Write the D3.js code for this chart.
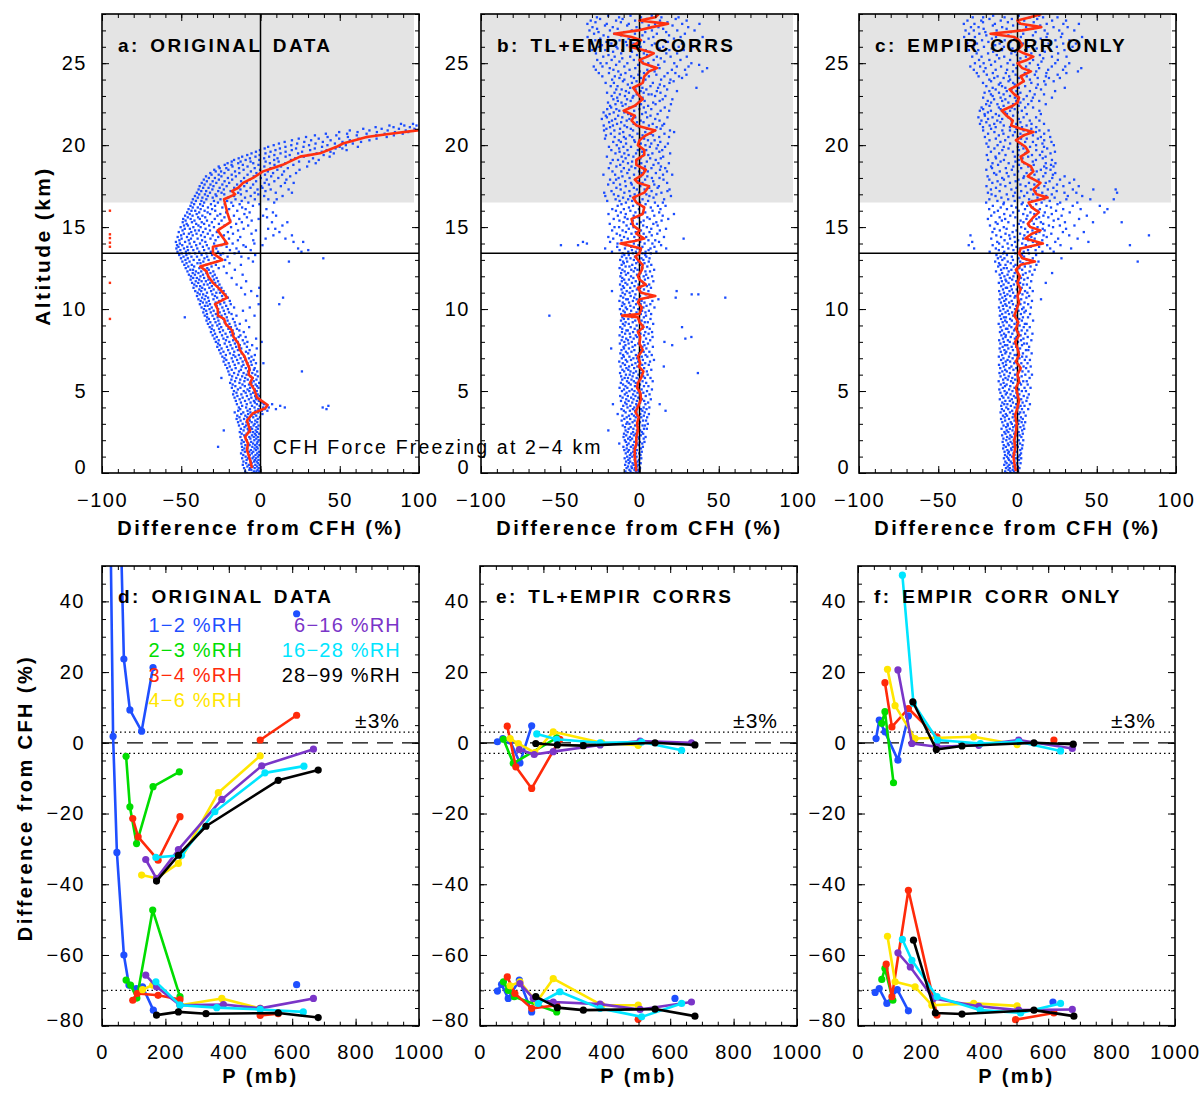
<!DOCTYPE html>
<html>
<head>
<meta charset="utf-8">
<script src="https://cdn.jsdelivr.net/npm/d3@7"></script>
<style>
body{margin:0;background:#fff;}
svg text{font-family:"Liberation Sans",Arial,sans-serif;fill:#000;}
</style>
</head>
<body>
<svg id="fig" width="1201" height="1093"></svg>
<script>
// ---------- data : top row (altitude km, difference %) ----------
// scatter rows : [altitude, diff, diff, ...]
var scatterA = [
[0.0,-8.6,-5.3,-3.1,-1.4],[0.1,-9.7,-4.2,-2.6,-0.8],[0.2,-7.1,-5.8,-1.9],[0.3,-10.4,-6.6,-3.7,-1.2],[0.4,-8.3,-4.9,-2.2],
[0.5,-11.2,-7.4,-3.3,-0.6],[0.6,-9.1,-5.6,-1.7],[0.7,-10.8,-6.2,-4.1,-2.4],[0.8,-8.8,-3.6,-1.3],[0.9,-11.6,-7.9,-5.1,-2.8],
[1.0,-9.4,-4.4,-1.6],[1.1,-10.9,-6.8,-3.2,-0.9],[1.2,-12.3,-5.5,-2.1],[1.3,-9.9,-7.2,-4.6,-1.1],[1.4,-11.4,-6.1,-2.9],
[1.5,-10.2,-8.3,-3.8,-1.8],[1.6,-26.8,-11.7,-5.2,-2.4],[1.7,-9.6,-6.9,-3.4,-0.7],[1.8,-12.1,-7.7,-4.7,-2.3],[1.9,-10.6,-5.9,-1.9],
[2.0,-11.8,-8.6,-3.9,-1.2],[2.1,-9.3,-6.4,-2.7],[2.2,-12.7,-7.1,-4.3,-1.6],[2.3,-10.3,-5.4,-2.9],[2.4,-11.9,-8.8,-3.6,-0.9],
[2.5,-13.1,-6.6,-4.8,-2.2],[2.6,-23.2,-10.7,-7.6,-3.1],[2.7,-12.4,-8.1,-5.3,-1.7],[2.8,-10.1,-6.3,-2.6],[2.9,-13.6,-9.2,-4.4,-1.3],
[3.0,-11.3,-7.5,-3.7],[3.1,-14.2,-8.9,-5.6,-2.1],[3.2,-12.6,-6.8,-3.3],[3.3,-15.1,-10.4,-7.2,-1.8],[3.4,-13.3,-8.4,-4.6,-0.4],
[3.5,-14.7,-9.6,-5.9,-2.7],[3.6,-12.2,-7.8,-3.9,1.2],[3.7,-16.3,-10.9,-6.4,-1.6],[3.8,-14.1,-8.2,-3.2,0.8,4.3],
[3.9,-12.8,-6.7,-1.4,2.6,9.7,41.6],[4.0,-13.7,-9.1,-3.8,1.7,5.2,15.3,39.2],[4.1,-11.6,-5.4,-0.6,3.9,12.4,42.8],
[4.2,-14.9,-8.7,-2.3,2.1,7.3],[4.3,-12.4,-6.3,-3.6,0.9],[4.4,-15.6,-9.8,-4.2,-1.1],[4.5,-13.2,-7.4,-2.7],
[4.6,-16.4,-11.3,-5.8,-2.9],[4.7,-14.6,-8.6,-3.4,-0.7],[4.8,-17.3,-12.1,-6.2,-1.8],[4.9,-15.2,-9.4,-4.7],
[5.0,-16.8,-10.6,-7.1,-2.4],[5.1,-14.3,-8.2,-3.6],[5.2,-18.1,-12.7,-6.6,-1.3],[5.3,-15.9,-9.9,-4.8,-2.2],
[5.4,-17.6,-11.4,-7.3,-3.1],[5.5,-19.2,-13.3,-5.7,-0.9],[5.6,-16.1,-10.2,-4.3],[5.7,-18.4,-12.8,-8.1,-2.6],
[5.8,-24.7,-15.3,-9.7,-4.9],[5.9,-17.9,-11.6,-6.4,-1.7],[6.0,-19.6,-14.2,-8.8,-3.3],[6.1,-16.7,-10.7,-5.2],
[6.2,-20.3,-13.6,-7.9,-2.1,26.1],[6.3,-18.2,-12.4,-6.8,-4.2],[6.4,-21.1,-15.7,-9.3,-3.7],[6.5,-19.4,-11.9,-7.4],
[6.6,-22.2,-16.3,-10.8,-5.6],[6.7,-20.1,-13.9,-8.2,-2.9,1.8],[6.8,-23.3,-17.4,-11.3,-6.1],[6.9,-21.6,-14.8,-9.6,-4.4],
[7.0,-22.8,-18.2,-12.6,-7.3],[7.1,-24.1,-15.9,-10.4,-5.7],[7.2,-21.9,-17.1,-13.7,-3.6],[7.3,-25.2,-19.3,-11.9,-7.8],
[7.4,-23.4,-16.6,-9.2],[7.5,-26.1,-20.4,-14.3,-6.9],[7.6,-24.6,-17.8,-12.2,-2.4],[7.7,-27.3,-21.2,-15.4,-8.6],
[7.8,-25.7,-18.9,-13.1,-5.3],[7.9,-26.8,-22.6,-16.2,-10.1],[8.0,-28.2,-19.7,-14.4,-8.3,0.7],[8.1,-26.4,-21.8,-17.3,-11.2],
[8.2,-29.1,-23.4,-15.6,-2.8],[8.3,-27.6,-20.9,-13.8,-9.4],[8.4,-30.2,-24.3,-18.4,-12.7],[8.5,-28.7,-22.1,-16.9],
[8.6,-31.3,-25.6,-19.2,-10.6],[8.7,-29.4,-23.7,-17.6,-13.4],[8.8,-30.8,-26.2,-20.3,-14.9],[8.9,-32.1,-24.8,-18.7,-7.2],
[9.0,-30.4,-27.3,-21.4,-15.8],[9.1,-33.2,-25.9,-19.6,-13.1],[9.2,-31.7,-28.4,-22.7,-16.3],[9.3,-34.1,-26.6,-20.8,-9.2],
[9.4,-32.6,-29.2,-23.5,-17.4],[9.5,-47.8,-33.7,-27.1,-21.3],[9.6,-35.2,-30.3,-24.6,-15.2,-3.8],[9.7,-33.8,-28.2,-22.4,-18.3],
[9.8,-36.1,-31.4,-25.8,-19.9],[9.9,-34.3,-29.6,-23.2,-11.1],[10.0,-35.7,-32.2,-26.7,-20.6],[10.1,-37.2,-30.8,-24.1,-16.7,-6.8],
[10.2,-35.1,-33.4,-27.6,-21.7],[10.3,-38.3,-31.9,-25.4,-18.8,-1.2,11.8],[10.4,-36.4,-34.1,-28.3,-22.9],[10.5,-37.8,-32.6,-26.2,-19.4],
[10.6,-39.2,-35.3,-29.7,-23.8],[10.7,-36.9,-33.1,-27.4,-20.6,14.2],[10.8,-40.1,-34.6,-28.8,-24.3,-2.1],[10.9,-38.4,-36.2,-30.4,-22.1,-9.8],
[11.0,-39.7,-33.8,-27.9,-25.6],[11.1,-41.2,-37.4,-31.2,-23.3,-5.9],[11.2,-38.6,-35.1,-29.6,-26.4],[11.3,-42.3,-36.8,-32.3,-24.7,-12.2,-0.8],
[11.4,-40.4,-38.1,-30.7,-27.2],[11.5,-41.8,-35.7,-33.4,-25.9,-15.1],[11.6,-43.2,-39.3,-31.8,-28.6],[11.7,-40.9,-37.2,-34.5,-26.8,-9.1],
[11.8,-44.1,-38.7,-32.9,-29.4],[11.9,-42.5,-40.2,-35.6,-27.7,-18.2],[12.0,-43.9,-37.9,-33.1,-30.2],[12.1,-45.2,-41.4,-36.3,-28.9,-11.3],
[12.2,-42.8,-39.2,-34.2,-31.6,-21.4],[12.3,-46.1,-40.8,-37.4,-29.8],[12.4,-44.3,-42.6,-35.1,-32.7,-16.2],[12.5,-47.2,-38.6,-33.6,-26.4],
[12.6,-45.6,-41.9,-36.8,-30.9,-23.2],[12.7,-48.1,-43.4,-34.3,-28.2,-12.4],[12.8,-46.7,-39.8,-37.9,-31.3,-19.6],
[12.9,-49.3,-44.8,-36.1,-27.4,-4.8,17.9],[13.0,-47.4,-42.2,-38.6,-32.8,-22.3],[13.1,-50.2,-45.9,-35.4,-29.1,-7.6,39.6],
[13.2,-48.6,-43.6,-40.1,-33.7,-20.8,-12.1],[13.3,-51.3,-46.8,-37.2,-30.6,-25.2,-3.4],[13.4,-49.7,-44.9,-41.3,-34.2,-23.6,-16.4],
[13.5,-52.4,-47.1,-38.7,-31.4,-26.8,-13.7,25.8],[13.6,-50.6,-45.8,-42.4,-35.6,-19.3,-6.2,30.1],[13.7,-53.1,-48.3,-39.9,-32.7,-27.9,-15.2,23.7],
[13.8,-51.8,-46.2,-43.6,-36.4,-21.4,-9.3],[13.9,-52.7,-49.4,-40.6,-33.9,-24.7,-10.8,1.2],[14.0,-50.9,-44.7,-38.2,-29.3,-17.6,-3.9],
[14.1,-53.4,-47.6,-41.8,-34.8,-22.4,20.8,26.9],[14.2,-51.2,-45.3,-36.9,-28.4,-14.3,-4.6],[14.3,-49.8,-43.9,-39.7,-31.6,-19.9,3.2,15.7],
[14.4,-52.3,-46.4,-35.2,-26.7,-12.8],[14.5,-50.1,-42.8,-37.6,-30.2,-23.1,8.1,19.8],[14.6,-48.4,-45.2,-40.4,-33.3,-17.4,-5.7],
[14.7,-51.6,-43.7,-36.3,-27.6,-20.6,11.9],[14.8,-49.2,-41.3,-38.9,-31.9,-14.2,-2.9],[14.9,-47.8,-44.6,-34.7,-25.8,-10.7,4.8,9.3],
[15.0,-50.4,-42.4,-37.8,-29.4,-18.6],[15.1,-48.3,-45.8,-39.2,-32.4,-22.7,-7.8,13.8],[15.2,-46.6,-40.6,-35.6,-26.3,-15.4],
[15.3,-49.1,-43.3,-37.1,-30.7,-11.8,7.2,16.9],[15.4,-47.3,-41.7,-33.8,-24.6,-19.1,-5.6],[15.5,-48.8,-44.1,-38.3,-28.9,-13.4,-1.2],
[15.6,-45.9,-39.4,-34.9,-22.8,-8.6,4.1],[15.7,-47.6,-42.9,-36.7,-27.2,-16.8,1.6,9.8],[15.8,-44.7,-40.3,-31.8,-25.4,-10.2],
[15.9,-46.3,-38.7,-33.4,-21.7,-6.9,7.8],[16.0,-43.6,-41.2,-35.3,-28.6,-14.7],[16.1,-45.4,-37.8,-30.6,-19.8,-9.4,3.7],
[16.2,-42.8,-39.6,-33.2,-24.1,-11.6],[16.3,-44.2,-36.4,-28.7,-17.3,-4.8],[16.4,-41.9,-38.1,-31.3,-22.6,-13.2,-0.7],
[16.5,-43.5,-35.6,-26.9,-18.4,-7.7,8.6],[16.6,-40.8,-37.3,-29.4,-21.1,-11.9],[16.7,-42.7,-34.2,-25.3,-15.8,-3.6,4.9,10.2],
[16.8,-39.6,-36.7,-30.2,-20.4,-9.8],[16.9,-41.4,-33.3,-27.8,-16.7,-6.2,2.3,13.9],[17.0,-38.7,-35.1,-28.4,-22.9,-12.4,-1.4],
[17.1,-40.2,-31.9,-24.6,-14.1,-3.7,9.6,19.8],[17.2,-37.4,-34.3,-26.7,-18.9,-8.8,3.1],[17.3,-39.1,-30.4,-23.2,-12.7,-1.9,6.4,17.7],
[17.4,-36.2,-32.8,-25.8,-16.6,-6.3,1.2],[17.5,-38.4,-29.7,-21.4,-10.3,0.4,12.8],[17.6,-35.3,-31.6,-24.1,-14.8,-4.7,5.3],
[17.7,-37.1,-27.9,-19.8,-8.7,2.6,15.4,20.9],[17.8,-33.9,-30.2,-22.7,-12.3,-2.8,8.7],[17.9,-35.8,-26.3,-17.9,-6.8,3.9,16.3],
[18.0,-32.6,-28.8,-20.6,-10.4,0.2,11.2],[18.1,-34.4,-24.7,-15.6,-4.3,6.7,18.7],[18.2,-30.9,-26.4,-18.2,-8.2,2.8,13.6],
[18.3,-31.7,-22.8,-13.4,-2.6,7.9,22.4],[18.4,-28.3,-24.9,-16.1,-6.1,4.6,14.8],[18.5,-29.2,-20.3,-10.7,-0.3,10.6,24.6],
[18.6,-25.8,-21.6,-13.6,-3.7,6.3,17.2],[18.7,-26.4,-17.7,-8.2,2.4,12.9,29.4],[18.8,-22.6,-18.3,-11.2,-1.3,8.8,20.7],
[18.9,-20.8,-14.1,-4.6,5.9,15.6,34.8],[19.0,-18.2,-12.6,-6.3,3.2,11.4,24.3,30.6],[19.1,-16.7,-9.4,-0.8,8.6,19.2,36.7],
[19.2,-13.8,-6.7,2.3,10.7,21.8,33.1],[19.3,-11.6,-3.2,5.4,15.8,27.3,43.6],[19.4,-8.4,-0.6,8.7,18.4,30.2,39.8],
[19.5,-5.7,3.1,12.6,23.7,35.4,46.2],[19.6,-2.9,6.3,15.8,26.2,38.6,44.1],[19.7,-0.4,9.4,19.7,31.3,41.7,54.3],
[19.8,2.6,12.2,22.4,34.2,47.3,51.6],[19.9,4.8,15.7,27.1,38.8,49.9,61.4],[20.0,8.3,19.4,30.6,42.2,53.8],
[20.1,11.6,23.1,34.7,46.9,58.2],[20.2,15.2,27.6,39.3,51.7,63.4],[20.3,19.8,31.9,44.2,56.3,68.7],[20.4,24.1,36.7,49.6,61.8,73.2],
[20.5,28.7,42.3,55.1,67.4,79.6],[20.6,34.3,47.8,60.7,72.9,84.1],[20.7,41.2,54.6,66.9,78.3,89.7],[20.8,49.6,61.2,73.4,84.8,93.2],
[20.9,56.3,68.7,80.2,91.6],[21.0,64.8,76.4,87.3,97.1],[21.1,72.6,83.9,94.2],[21.2,81.3,90.7,98.4],[21.3,88.6,96.2]
];
var scatterB = [
[0.0,-7.6,-4.3,-1.8],[0.1,-8.9,-5.7,-2.4,-0.6],[0.2,-6.4,-3.2,-1.1],[0.3,-8.2,-4.8,-2.9,0.3],[0.4,-7.3,-5.1,-1.5],
[0.5,-9.1,-3.7,-0.8],[0.6,-6.8,-4.4,-2.2,0.7],[0.7,-8.5,-5.9,-1.3],[0.8,-7.1,-3.1,-0.4],[0.9,-9.4,-6.2,-2.7,1.1],
[1.0,-7.8,-4.6,-1.9],[1.1,-6.1,-3.4,0.6],[1.2,-8.7,-5.3,-2.3,-0.2],[1.3,-7.4,-4.1,1.4],[1.4,-9.6,-6.6,-1.6],
[1.5,-8.1,-3.8,0.9],[1.6,-10.2,-5.5,-2.6,2.1],[1.7,-7.9,-4.2,-0.7],[1.8,-12.8,-6.9,-1.4,1.7],[1.9,-8.6,-3.3,0.2,3.1],
[2.0,-9.3,-5.8,-2.1],[2.1,-7.2,-4.7,-0.3,2.6],[2.2,-10.1,-6.1,-1.2,3.8],[2.3,-8.4,-3.6,0.8],[2.4,-9.8,-5.2,-2.5,2.3],
[2.5,-7.5,-4.1,1.5],[2.6,-19.7,-8.8,-1.7,0.4],[2.7,-6.9,-3.9,2.8,4.6],[2.8,-9.2,-5.6,-0.9],[2.9,-10.6,-2.8,1.9,3.4],
[3.0,-8.3,-6.4,-1.3,5.2],[3.1,-7.7,-4.4,0.3],[3.2,-11.3,-3.1,2.2,4.1],[3.3,-9.6,-5.9,-0.6],[3.4,-8.1,-2.4,1.1,4.8],
[3.5,-10.8,-6.7,-3.5,2.7],[3.6,-13.8,-4.9,0.5,5.9],[3.7,-8.8,-1.9,3.3],[3.8,-9.9,-6.1,-2.8,1.8,16.4],[3.9,-11.4,-4.2,0.9,4.4],
[4.0,-7.6,-3.3,2.6,6.2],[4.1,-10.3,-5.8,-1.4],[4.2,-16.8,-8.2,-2.1,3.7,12.7],[4.3,-9.1,-4.6,0.4,5.4],[4.4,-11.7,-6.9,-1.7,2.9],
[4.5,-8.4,-3.8,1.6,7.1],[4.6,-10.7,-5.3,-0.8],[4.7,-12.2,-7.4,-2.6,3.9],[4.8,-9.3,-4.1,0.7,6.3],[4.9,-8.2,-1.3,2.4],
[5.0,-11.1,-6.4,-3.2,4.7],[5.1,-9.8,-4.8,1.3,7.8],[5.2,-12.6,-7.7,-1.1],[5.3,-8.9,-2.9,2.8,5.6],[5.4,-10.4,-5.6,0.3],
[5.5,-11.8,-6.8,-2.4,4.2],[5.6,-7.9,-3.6,1.9,8.3],[5.7,-10.9,-5.1,-0.4],[5.8,-9.4,-7.3,-1.8,3.4,6.9],[5.9,-11.6,-4.4,2.3],
[6.0,-8.6,-6.2,-0.7,5.1],[6.1,-12.3,-3.8,1.2,36.8],[6.2,-9.7,-5.7,-2.2,4.6],[6.3,-10.8,-7.1,0.6,7.4],[6.4,-8.3,-3.4,2.9],
[6.5,-11.9,-6.6,-1.4,15.3],[6.6,-9.2,-4.7,1.7,5.8],[6.7,-10.6,-2.6,3.6],[6.8,-12.8,-7.8,-0.9,6.6],[6.9,-8.7,-5.4,2.1,9.1],
[7.0,-11.2,-3.9,-1.6],[7.1,-9.9,-6.4,1.4,4.9],[7.2,-10.4,-2.3,3.8,7.7],[7.3,-12.1,-7.6,-0.4],[7.4,-8.6,-5.1,2.6,6.2],
[7.5,-11.4,-3.3,0.9],[7.6,-17.9,-9.8,-6.7,4.3],[7.7,-10.1,-4.4,1.8,8.4],[7.8,-8.9,-2.8,3.1,20.6],[7.9,-12.4,-6.9,-0.8,5.3],
[8.0,-9.6,-4.9,2.4,15.7],[8.1,-11.3,-7.3,0.2,6.7],[8.2,-8.4,-3.7,4.1,28.9],[8.3,-10.7,-5.8,-1.6,8.2,32.7],[8.4,-12.6,-2.4,2.8],
[8.5,-9.1,-6.2,0.6,5.7],[8.6,-11.1,-4.1,3.6,7.9],[8.7,-8.3,-7.4,-1.2],[8.8,-10.9,-3.1,1.9,6.4],[8.9,-12.2,-5.6,4.7,26.8],
[9.0,-9.4,-1.8,2.2],[9.1,-10.5,-6.8,0.4,8.6],[9.2,-8.8,-4.3,3.3,5.2],[9.3,-11.7,-2.7,1.3],[9.4,-9.9,-7.1,-0.6,6.9],
[9.5,-10.8,-4.6,2.7],[9.6,-56.9,-8.6,-3.4,4.1],[9.7,-11.6,-6.1,0.8,7.3],[9.8,-9.3,-1.9,3.7],[9.9,-10.2,-5.3,1.6,5.9],
[10.0,-12.4,-7.9,-0.9],[10.1,-8.7,-3.6,2.4,9.4],[10.2,-11.1,-5.8,4.4],[10.3,-9.6,-2.2,0.7,6.8],[10.4,-10.6,-6.6,3.1],
[10.5,-12.7,-4.2,1.3,8.1],[10.6,-8.4,-7.4,-1.8,11.9],[10.7,-10.3,-3.4,5.2,22.8,54.1],[10.8,-11.9,-5.6,0.3,7.6],[10.9,-9.2,-2.6,3.9,37.1,32.9],
[11.0,-10.7,-6.3,1.6],[11.1,-17.4,-8.1,-4.4,5.6,23.4],[11.2,-11.4,-1.7,2.8],[11.3,-9.8,-5.9,0.4,7.2],[11.4,-10.5,-3.2,4.6],
[11.5,-12.3,-7.7,-0.6,6.1],[11.6,-8.9,-4.8,2.3],[11.7,-11.2,-2.4,1.1,8.7],[11.8,-9.7,-6.7,3.4],[11.9,-10.9,-3.9,-0.2,5.4],
[12.0,-12.1,-5.4,2.6,7.9],[12.1,-8.6,-1.6,4.2],[12.2,-11.6,-7.2,0.6],[12.3,-9.4,-3.7,3.7,6.6],[12.4,-10.8,-5.2,-1.3,9.2],
[12.5,-12.6,-2.8,1.8],[12.6,-8.8,-6.4,4.9],[12.7,-11.3,-4.6,0.2,7.4],[12.8,-9.9,-2.1,3.1],[12.9,-10.4,-7.8,-0.8,5.8],
[13.0,-12.2,-3.6,2.4],[13.1,-8.3,-5.7,1.2,6.3],[13.2,-11.1,-2.9,4.3],[13.3,-9.6,-6.8,-0.4,3.6],[13.4,-10.7,-4.2,1.9,7.1],
[13.5,-17.4,-7.1,-2.3,3.8,10.6],[13.6,-12.6,-4.8,0.6,5.7],[13.7,-21.7,-9.2,-1.4,6.9,16.8],[13.8,-14.1,-5.3,1.8,9.4],
[13.9,-49.6,-38.8,-8.7,-0.7,13.6],[14.0,-33.2,-13.9,-3.6,3.2,8.1],[14.1,-35.7,-18.6,-6.2,0.4,12.3],[14.2,-11.4,-2.1,5.6,9.9],
[14.3,-16.6,-7.4,1.3,27.8],[14.4,-19.7,-9.8,-3.3,4.2,15.4],[14.5,-12.3,-0.6,7.7],[14.6,-14.4,-5.1,2.6,11.2],
[14.7,-8.6,-2.4,6.3],[14.8,-17.3,-10.7,0.9,12.8],[14.9,-6.8,-1.3,7.4,16.7],[15.0,-15.8,-12.9,-3.8,4.6],
[15.1,-8.2,2.3,11.4],[15.2,-18.8,-5.4,-1.6,8.7],[15.3,-10.1,0.7,10.6],[15.4,-12.7,-4.2,2.6,13.9],
[15.5,-16.3,-7.6,6.4,18.1],[15.6,-9.3,-0.8,4.9],[15.7,-13.7,-3.7,9.3,14.6],[15.8,-19.6,-8.7,1.2,21.7],
[15.9,-11.8,-2.6,3.6,12.4],[16.0,-14.9,-5.8,8.2],[16.1,-17.2,-9.9,-0.4,13.2],[16.2,-6.7,2.7,7.1],
[16.3,-13.8,-4.1,11.6,16.4],[16.4,-11.4,-1.2,3.8],[16.5,-8.6,0.3,9.7,14.7],[16.6,-20.4,-12.6,-4.7,5.4],
[16.7,-15.1,-7.2,1.9,15.5],[16.8,-10.4,-2.8,8.8],[16.9,-21.6,-13.4,-5.9,6.2,19.8],[17.0,-16.2,-3.1,4.3,10.6],
[17.1,-22.3,-9.6,-0.2,13.8],[17.2,-17.7,-6.4,7.6,17.6],[17.3,-11.9,-1.7,3.2,18.9],[17.4,-14.6,-3.6,6.1,11.4],
[17.5,-8.7,0.5,12.2],[17.6,-19.8,-12.3,-4.9,9.3],[17.7,-16.4,-5.4,1.8,17.4],[17.8,-9.1,-1.2,8.6],
[17.9,-18.6,-14.8,-2.6,3.5,15.1],[18.0,-13.2,-6.3,7.8,12.6],[18.1,-10.8,0.9,4.9],[18.2,-22.8,-15.4,-3.5,14.8,20.6],
[18.3,-7.7,1.4,10.3],[18.4,-17.1,-11.5,-0.3,5.2,17.3],[18.5,-6.6,2.9,12.9],[18.6,-19.4,-9.9,-2.7,7.5,16.2],
[18.7,-14.6,-5.1,3.4,13.5],[18.8,-12.2,-0.8,8.8],[18.9,-18.3,-7.3,1.1,11.9,18.5],[19.0,-10.4,-4.7,4.6],
[19.1,-16.9,-13.6,-1.5,10.2],[19.2,-8.8,0.6,6.7,13.4],[19.3,-20.6,-11.3,-3.9,14.9],[19.4,-6.9,2.4,5.5],
[19.5,-15.2,-9.6,-2.2,8.1,19.3],[19.6,-12.6,1.7,12.5],[19.7,-17.8,-7.6,-1.1,4.2,14.3],[19.8,-12.9,0.4,10.7],
[19.9,-19.3,-10.2,-5.4,6.5,16.1],[20.0,-14.4,-0.9,3.7,11.6],[20.1,-8.5,0.8,7.4,17.9],[20.2,-16.6,-11.8,-2.9,13.1],
[20.3,-13.1,-3.4,5.3,9.5],[20.4,-21.8,-8.7,0.2,2.9],[20.5,-15.7,-9.9,-4.6,12.4,18.6],[20.6,-21.2,-6.2,1.9,8.5],
[20.7,-18.1,-12.6,-1.3,7.1,15.7],[20.8,-10.3,3.6,21.8],[20.9,-22.4,-15.9,-4.1,9.7,19.2],[21.0,-20.9,-12.3,-5.5,4.6,13.3],
[21.1,-18.6,-7.9,-0.4,10.8],[21.2,-22.6,-16.8,-9.5,5.9,14.4],[21.3,-14.2,-3.7,8.3,15.5],[21.4,-19.2,-11.6,-1.6,2.5],
[21.5,-17.4,-8.1,0.7,12.6],[21.6,-23.8,-15.3,-6.4,9.9],[21.7,-20.6,-10.9,-2.7,4.8,17.6],[21.8,-21.3,-13.5,-5.3,6.9],
[21.9,-18.9,-7.2,1.6,11.4],[22.0,-22.7,-16.3,-9.6,3.9],[22.1,-12.8,-3.4,13.3,18.7],[22.2,-20.4,-14.6,-0.1,7.4],
[22.3,-17.9,-6.5,2.7,15.9],[22.4,-18.6,-10.7,-2.6,5.4],[22.5,-15.2,-8.8,0.9,10.1,19.8],[22.6,-19.9,-11.4,-0.6,8.6],
[22.7,-13.7,-5.6,3.2,12.7],[22.8,-16.5,-7.9,0.3,14.6,20.7],[22.9,-14.1,-4.4,1.9],[23.0,-17.6,-9.2,-3.9,9.8,16.3],
[23.1,-12.4,-1.8,5.7,7.6],[23.2,-20.5,-15.8,-6.7,2.6,13.2],[23.3,-8.6,0.7,10.9,23.6],[23.4,-14.7,-11.3,-2.5,4.3,17.4],
[23.5,-5.9,1.8,11.7,35.9],[23.6,-18.2,-13.9,-0.7,6.9,15.6],[23.7,-7.4,0.5,12.8],[23.8,-21.4,-16.2,-4.8,8.4,18.9],
[23.9,-10.5,-1.9,2.3,21.5],[24.0,-17.3,-9.6,3.7,13.6,19.5],[24.1,-12.7,-3.5,0.9,26.8],[24.2,-23.5,-15.6,-5.3,5.9,15.7,24.9],
[24.3,-11.8,-0.8,10.6,29.6],[24.4,-25.7,-19.3,-8.9,2.8,17.7,22.6],[24.5,-13.4,0.1,9.5,39.7],[24.6,-27.6,-16.5,-6.3,4.9,20.4,28.7],
[24.7,-18.8,-2.7,12.6,42.6],[24.8,-28.9,-23.4,-9.6,7.6,23.5,30.9],[24.9,-14.8,-0.9,11.8,37.6],[25.0,-24.6,-20.8,-7.7,5.5,21.9,32.7],
[25.1,-12.7,1.9,15.7],[25.2,-26.7,-17.6,-3.6,8.9,25.8],[25.3,-10.9,0.4,13.4],[25.4,-22.9,-15.7,-5.9,10.9,19.6,29.8],
[25.5,-19.6,-1.6,4.7],[25.6,-27.5,-11.6,2.7,16.9,23.7],[25.7,-16.7,-4.8,6.6],[25.8,-29.8,-21.6,-10.8,3.9,18.8,27.9],
[25.9,-13.9,-0.6,12.7],[26.0,-25.6,-14.6,0.7,14.9,24.7,33.8],[26.1,-23.7,-7.9,7.8],[26.2,-30.7,-17.8,-3.8,9.6,26.8,36.9],
[26.3,-20.9,-8.6,2.9,17.9],[26.4,-27.9,-12.6,0.2,15.8,32.6],[26.5,-24.8,-6.9,5.7,21.7],[26.6,-32.8,-19.8,-5.9,8.7,25.9,39.8],
[26.7,-22.7,-11.7,1.8,18.6],[26.8,-28.7,-15.9,-2.9,10.9,28.6],[26.9,-25.9,-9.7,3.6,16.8],[27.0,-31.6,-18.7,-4.9,7.8,23.8,34.7],
[27.1,-26.8,-13.8,0.3,14.9],[27.2,-29.7,-16.9,-1.9,11.9,30.7],[27.3,-21.8,-7.8,5.8,20.8],[27.4,-32.9,-20.7,-6.8,9.8,26.9,37.8],
[27.5,-27.8,-11.8,1.7,17.6],[27.6,-30.8,-14.8,-2.8,12.9,29.7],[27.7,-24.9,-10.7,4.7,22.8],[27.8,-26.9,-12.9,0.9,13.8,24.6],
[27.9,-19.8,-5.7,7.7]
];
var scatterC = [
[0.0,-6.6,-3.9,-1.2],[0.1,-7.8,-4.6,-2.3,0.4],[0.2,-5.7,-3.1,-0.6],[0.3,-7.3,-4.9,-1.8,1.2],[0.4,-6.2,-2.7,0.3],
[0.5,-8.4,-5.2,-1.4],[0.6,-6.9,-3.6,-0.2,1.9],[0.7,-7.7,-4.3,-2.1],[0.8,-5.4,-2.2,0.9],[0.9,-8.6,-5.9,-1.1,2.3],
[1.0,-6.7,-3.4,0.6],[1.1,-7.9,-4.7,-1.9,1.4],[1.2,-5.9,-2.6,2.2],[1.3,-8.2,-5.5,-0.7],[1.4,-6.4,-3.8,1.7],
[1.5,-9.1,-4.1,-1.6,2.8],[1.6,-7.4,-2.9,0.2],[1.7,-8.7,-5.6,-0.9,3.1],[1.8,-6.1,-3.3,1.6],[1.9,-9.4,-4.4,-1.3],
[2.0,-7.1,-2.4,0.8,3.6],[2.1,-8.9,-5.1,-1.7],[2.2,-6.6,-3.7,2.4],[2.3,-9.7,-4.6,-0.4,1.3],[2.4,-7.6,-2.1,3.3],
[2.5,-8.3,-5.8,-1.2,0.7],[2.6,-6.8,-3.2,2.9],[2.7,-10.1,-4.9,-0.6,4.2],[2.8,-7.2,-2.7,1.8],[2.9,-8.8,-6.1,-1.5,3.7],
[3.0,-6.3,-3.6,0.5],[3.1,-9.6,-4.3,2.6,4.8],[3.2,-7.8,-1.9,1.1],[3.3,-10.4,-5.4,-0.8,3.3],[3.4,-8.1,-3.1,2.1],
[3.5,-9.2,-6.6,-1.6,5.1],[3.6,-7.4,-2.6,0.9],[3.7,-10.7,-4.8,1.7,3.9],[3.8,-8.6,-3.4,-0.3],[3.9,-9.9,-5.9,2.8,6.7],
[4.0,-7.1,-1.8,0.6],[4.1,-10.3,-4.2,1.9,4.4],[4.2,-8.4,-6.4,-0.9,7.8],[4.3,-9.6,-2.9,3.2],[4.4,-7.7,-4.9,0.4,5.6],
[4.5,-11.2,-3.6,2.3],[4.6,-8.9,-5.8,-1.2,6.2],[4.7,-9.8,-2.3,3.9],[4.8,-7.4,-4.4,1.1,7.1],[4.9,-10.8,-6.7,-0.7],
[5.0,-8.2,-3.2,2.7,5.3],[5.1,-11.5,-5.3,0.8],[5.2,-9.3,-1.9,4.4,8.2],[5.3,-7.9,-4.6,-0.4],[5.4,-10.6,-6.9,2.2,6.4],
[5.5,-8.8,-2.8,1.4],[5.6,-11.9,-4.1,3.6,5.8],[5.7,-9.1,-6.2,-1.5],[5.8,-7.6,-3.3,0.9,7.6],[5.9,-10.7,-5.6,2.6],
[6.0,-8.4,-1.6,4.9,9.1],[6.1,-11.4,-4.8,0.2],[6.2,-9.6,-6.8,3.1,6.9],[6.3,-7.8,-2.6,1.7],[6.4,-10.9,-5.1,-0.8,5.4],
[6.5,-8.6,-3.9,3.8,8.3],[6.6,-11.7,-7.2,0.6],[6.7,-9.3,-2.1,2.4,6.3],[6.8,-7.5,-4.7,-1.3],[6.9,-10.4,-6.3,4.6,7.8],
[7.0,-8.9,-3.1,1.2],[7.1,-11.8,-5.4,2.9,5.6],[7.2,-9.7,-1.8,-0.6],[7.3,-7.7,-4.6,3.4,8.9],[7.4,-10.6,-7.1,0.7],
[7.5,-8.3,-2.9,5.3,6.8],[7.6,-11.3,-5.8,1.6],[7.7,-9.4,-3.7,-0.9,7.3],[7.8,-7.9,-6.5,2.8],[7.9,-10.8,-2.4,4.1,5.9],
[8.0,-8.7,-4.9,0.3],[8.1,-11.6,-6.1,2.2,8.7],[8.2,-9.2,-1.7,3.7],[8.3,-7.6,-4.3,-0.7,6.4],[8.4,-10.2,-7.4,1.9],
[8.5,-8.5,-3.3,4.8,9.4],[8.6,-11.1,-5.6,0.5],[8.7,-9.8,-2.2,2.6,6.1],[8.8,-7.3,-6.4,-1.6],[8.9,-10.7,-3.9,3.9,7.7],
[9.0,-8.8,-5.2,1.3],[9.1,-11.9,-1.9,4.6,5.7],[9.2,-9.4,-6.8,-0.4],[9.3,-7.8,-3.6,2.7,9.8],[9.4,-10.4,-4.7,1.1],
[9.5,-8.6,-7.3,3.4,6.6],[9.6,-11.2,-2.7,-1.2],[9.7,-9.7,-5.4,2.1,7.9],[9.8,-7.6,-3.4,4.3],[9.9,-10.9,-6.2,0.6,5.2],
[10.0,-8.9,-1.6,2.9],[10.1,-11.7,-4.8,3.8,8.4],[10.2,-9.3,-6.9,-0.8],[10.3,-7.7,-2.9,1.8,6.7],[10.4,-10.5,-5.3,4.4],
[10.5,-8.4,-3.7,0.9,9.1],[10.6,-11.4,-7.2,2.3,14.8],[10.7,-9.6,-1.9,5.6],[10.8,-7.9,-4.6,-1.4,7.3],[10.9,-10.8,-6.4,3.1],
[11.0,-8.6,-2.8,1.4,6.2],[11.1,-11.6,-5.1,4.7,9.6],[11.2,-9.2,-3.6,-0.5],[11.3,-7.4,-6.6,2.6,7.8],[11.4,-10.3,-4.2,0.7],
[11.5,-8.8,-2.3,3.6,5.9],[11.6,-11.8,-5.7,1.6,17.8],[11.7,-9.9,-7.1,-0.9,8.6],[11.8,-7.6,-3.4,4.2],[11.9,-10.6,-4.9,2.2,6.4],
[12.0,-8.3,-2.6,0.4],[12.1,-11.3,-6.3,3.4,9.3],[12.2,-9.7,-1.8,5.1,21.8],[12.3,-13.6,-5.6,-0.6,7.6],[12.4,-10.4,-3.9,2.9,10.8],
[12.5,-8.7,-6.8,1.2],[12.6,-12.2,-2.4,4.6,8.2],[12.7,-10.9,-7.6,-1.3,11.9],[12.8,-11.7,-4.3,3.3,7.1],[12.9,-14.1,-6.2,1.7,13.2,75.8],
[13.0,-9.6,-2.9,5.8],[13.1,-12.4,-8.3,0.6,9.6,27.7],[13.2,-10.7,-3.6,4.1],[13.3,-13.3,-6.7,2.8,11.7],[13.4,-9.1,-1.4,7.2],
[13.5,-17.6,-8.4,3.9,15.7,22.8],[13.6,-11.8,-2.6,6.6,11.4],[13.7,-27.4,-13.7,-5.8,1.4,20.6,33.8],[13.8,-9.4,-0.7,8.3,13.6],
[13.9,-30.8,-15.7,-3.6,5.2,18.7,27.1,70.9],[14.0,-11.6,-6.3,2.9,12.4],[14.1,-28.6,-12.8,-1.6,9.7,23.8,44.7],[14.2,-8.2,0.4,6.8,15.6],
[14.3,-16.6,-4.7,3.6,10.8,25.6,37.9],[14.4,-10.4,-1.9,8.7,18.4],[14.5,-29.7,-13.4,-5.2,4.3,16.4,32.6,82.9],[14.6,-7.6,1.6,11.7,21.3],
[14.7,-15.8,-3.1,6.4,13.8,28.6,41.8],[14.8,-11.2,-0.6,9.4,17.1],[14.9,-14.6,-6.9,4.8,15.9,30.6],[15.0,-8.7,2.3,12.6,22.4],
[15.1,-17.4,-2.4,7.1,19.8,26.7,35.9],[15.2,-12.6,0.8,10.3,16.2],[15.3,-13.8,-5.8,3.7,14.7,29.9,47.6,65.7],[15.4,-9.9,1.9,8.9,22.8],
[15.5,-18.7,-7.8,5.6,11.9,25.7,38.8],[15.6,-11.3,-1.4,13.6,19.4],[15.7,-16.6,-4.6,6.2,16.3,27.8,43.7],[15.8,-8.4,3.6,10.6,21.6],
[15.9,-14.7,-2.8,8.1,17.2,32.9,54.8],[16.0,-12.4,0.7,12.9,24.3],[16.1,-17.9,-6.7,4.7,14.1,28.8,39.8,56.7],[16.2,-10.6,-0.9,9.6,21.1],
[16.3,-15.6,-3.8,6.1,18.3,34.8,51.9],[16.4,-8.9,2.6,11.8,25.2],[16.5,-19.8,-8.6,3.3,15.2,26.9,37.7],[16.6,-12.7,-1.8,9.2,20.3],
[16.7,-17.8,-5.9,7.3,16.8,30.8,45.9,60.7],[16.8,-10.2,1.2,12.6,23.4],[16.9,-13.9,-2.7,4.2,18.1,31.7,40.8],[17.0,-16.4,-6.8,9.9,21.6],
[17.1,-18.7,-1.6,6.1,15.6,29.6,37.1,62.8],[17.2,-11.3,2.3,11.4,24.7],[17.3,-16.8,-3.9,8.4,19.1,34.9,47.8,61.9],[17.4,-13.6,-0.7,13.2,22.6],
[17.5,-19.6,-7.7,5.1,16.9,28.9,38.6],[17.6,-10.8,1.8,10.6,24.9],[17.7,-15.9,-4.8,7.2,17.8,32.8],[17.8,-12.6,-1.2,12.4,20.2],
[17.9,-17.8,-8.6,0.6,13.3,26.8,35.7],[18.0,-9.7,3.7,8.8,21.9],[18.1,-18.9,-5.7,4.1,16.2,29.7],[18.2,-13.4,-1.9,10.7,22.3],
[18.3,-14.8,-6.8,5.7,17.6,23.8],[18.4,-11.2,0.3,12.1],[18.5,-19.7,-3.6,8.8,14.7,20.8],[18.6,-16.1,-7.4,2.3,18.2],
[18.7,-16.7,-2.7,6.8,16.8,22.7],[18.8,-12.3,0.9,10.2,21.1],[18.9,-15.8,-5.6,4.2,17.8,23.9],[19.0,-10.7,-1.3,9.6],
[19.1,-18.6,-8.6,0.8,11.6,21.7],[19.2,-13.6,3.1,15.9],[19.3,-13.9,-1.7,6.7,17.7],[19.4,-19.4,-7.6,0.4,9.1,14.1],
[19.5,-11.6,4.8,20.8],[19.6,-16.8,-2.9,5.8,15.6,23.6],[19.7,-9.6,0.9,11.8],[19.8,-14.6,-5.7,3.7,18.7],
[19.9,-18.4,-8.7,0.2,7.9,16.7],[20.0,-12.6,2.8,11.7,22.9],[20.1,-19.6,-4.7,0.8,15.7],[20.2,-10.8,4.8,9.7,21.4],
[20.3,-17.7,-7.8,-0.9,16.8],[20.4,-13.7,2.2,5.8,12.8],[20.5,-20.6,-5.8,0.3,14.7,20.6],[20.6,-11.8,-2.9,3.7,9.7],
[20.7,-18.6,-8.9,1.8,16.8],[20.8,-14.6,-1.7,6.9,11.6],[20.9,-21.7,-9.6,-4.8,3.8,13.8,19.6],[21.0,-16.7,-0.7,8.7],
[21.1,-21.8,-13.8,-4.8,2.8,11.8],[21.2,-17.6,-8.7,5.7],[21.3,-23.7,-14.7,-0.8,8.8,16.7],[21.4,-19.7,-10.8,1.8],
[21.5,-22.8,-12.8,-3.8,7.7,13.8],[21.6,-18.6,-9.7,0.8],[21.7,-24.7,-15.8,-5.8,3.8,11.7],[21.8,-20.6,-11.7,-2.8],
[21.9,-20.8,-13.7,-6.7,5.8,14.7],[22.0,-18.7,-7.8,0.2],[22.1,-23.8,-16.8,-4.7,2.7,13.8],[22.2,-21.7,-10.7,-1.8],
[22.3,-22.7,-11.8,-3.7,4.8,9.8],[22.4,-17.7,-8.8,0.7],[22.5,-19.8,-12.7,-2.8,6.7,17.8],[22.6,-16.7,-5.8,1.8],
[22.7,-18.8,-9.7,-0.8,8.8,13.7],[22.8,-14.8,-7.7,3.8],[22.9,-21.7,-10.7,-1.7,9.7,21.7],[23.0,-15.7,-4.8,5.8],
[23.1,-16.8,-8.8,0.3,10.8,16.7],[23.2,-20.8,-11.7,1.8],[23.3,-17.8,-6.8,-0.7,7.8,23.7],[23.4,-13.8,-3.8,14.8],
[23.5,-15.7,-7.7,0.8,11.8,29.8],[23.6,-19.7,-9.8,4.8],[23.7,-11.8,-1.8,12.8,17.7],[23.8,-21.8,-10.8,-2.8,8.7],
[23.9,-16.7,-5.7,3.8,16.8,22.8],[24.0,-17.8,-4.7,7.8],[24.1,-14.7,-8.8,0.8,12.7,19.8,26.7],[24.2,-24.6,-12.6,-5.3,5.8,17.9],
[24.3,-19.4,-1.2,10.9,25.3],[24.4,-25.7,-15.6,-7.4,4.6,18.2,30.8],[24.5,-21.3,-2.9,11.8,38.1],[24.6,-27.6,-13.8,-6.6,6.9,19.3,28.7],
[24.7,-20.2,-0.7,13.6,40.2],[24.8,-29.8,-23.6,-10.4,5.4,21.6,30.1],[24.9,-16.7,-2.6,12.9],[25.0,-26.9,-21.4,-6.3,7.7,23.8,32.6],
[25.1,-14.2,0.9,15.1],[25.2,-24.3,-17.8,-4.7,9.8,25.4],[25.3,-11.6,1.8,16.2],[25.4,-28.6,-22.7,-8.4,5.3,21.7,30.9],
[25.5,-13.1,-0.4,14.1],[25.6,-25.8,-18.6,-3.9,8.7,25.6],[25.7,-15.4,-1.6,17.2],[25.8,-30.7,-24.8,-9.8,4.8,20.9,29.6],
[25.9,-16.3,-3.2,12.1],[26.0,-27.9,-21.2,-8.6,6.9,24.8,34.7],[26.1,-14.1,0.8,15.7],[26.2,-31.8,-25.6,-11.3,3.4,19.6,28.8,36.8],
[26.3,-18.4,-4.6,11.2],[26.4,-29.6,-22.4,-8.1,5.8,23.9,32.7],[26.5,-16.2,-1.8,14.6],[26.6,-33.7,-26.9,-13.6,2.1,18.3,27.4,40.7],
[26.7,-19.7,-5.8,9.7],[26.8,-30.6,-24.1,-11.8,3.6,18.9,28.2],[26.9,-20.3,-4.3,11.4],[27.0,-32.8,-27.6,-13.2,1.3,17.1,26.3,35.8],
[27.1,-21.4,-6.9,9.4],[27.2,-29.4,-24.6,-9.7,5.4,22.7,31.6],[27.3,-15.6,-2.8,14.3],[27.4,-33.9,-27.2,-14.3,1.1,18.4,28.9,38.7],
[27.5,-21.8,-6.1,10.2],[27.6,-31.6,-22.9,-10.6,4.2,21.8,30.6],[27.7,-17.7,-3.6,12.4],[27.8,-28.3,-21.7,-8.2,7.8,16.1,25.2],
[27.9,-15.4,0.8,13.6]
];
// running means : [altitude, diff]
var meanA = [[0.3,-5.4],[0.8,-6.6],[1.4,-8.5],[1.8,-7.9],[2.2,-9.8],[2.6,-6.6],[3.2,-8.5],[3.65,-4.7],[3.95,3],[4.15,4.5],
[4.6,-2.2],[5.1,-4],[5.5,-6.6],[5.8,-5],[6.0,-7.5],[6.4,-7],[6.7,-8.5],[7.1,-10],[7.5,-13],[7.9,-14],[8.3,-17],[8.7,-18],
[9.1,-22],[9.4,-23],[9.6,-26.8],[10.0,-27],[10.3,-28.7],[10.7,-21],[11.2,-25.5],[11.6,-30],[12.0,-33],[12.3,-34],[12.6,-38],
[13.0,-24],[13.4,-30],[13.8,-30],[14.0,-21],[14.4,-24],[14.8,-27],[15.3,-19],[15.9,-21],[16.3,-22],[16.7,-23],[17.0,-16],
[17.2,-18],[17.4,-14],[17.7,-11],[18.0,-4.7],[18.4,1.6],[18.6,8],[18.8,14],[19.3,25],[19.5,37.5],[19.9,48],[20.1,52],
[20.5,67],[20.7,82],[20.9,99],[21.05,104]];
var meanB = [[0.1,-2],[0.6,-2.5],[1.0,-3],[1.4,-3],[1.8,-2],[2.2,-2],[2.6,-1],[3.05,-1.5],[3.4,-0.5],[3.7,-2.5],[4.15,-0.5],
[4.5,1],[4.9,0.5],[5.2,-1.5],[5.5,-1],[5.8,1],[6.2,2.5],[6.5,-0.5],[6.7,0.5],[7.1,-1],[7.5,2],[7.9,0],[8.3,0.5],[8.6,-1],
[8.9,2.5],[9.2,0],[9.5,-1],[9.6,-11],[9.7,0],[10.1,1.5],[10.4,-1],[10.6,0],[10.8,10],[11.0,1],[11.3,-1],[11.5,4],[11.8,0],
[12.0,-1],[12.4,1.5],[12.7,2],[13.0,-1],[13.2,-2.5],[13.4,0],[13.7,1],[14.0,-12],[14.15,-3],[14.3,3],[14.6,-2],[14.8,0],
[15.1,-4],[15.5,-5],[15.8,2],[16.2,3],[16.5,-2],[16.8,-4],[17.1,3],[17.5,6],[17.7,-1],[17.9,-3],[18.2,2],[18.5,4],[18.8,-2],
[19.1,-2],[19.4,3],[19.7,3],[20.0,-1],[20.3,0],[20.6,4],[20.9,10],[21.2,-2],[21.5,-5],[21.8,-3],[22.1,-10],[22.4,-3],[22.8,2],
[23.1,-1],[23.5,-4],[23.8,2],[24.2,3],[24.5,6],[24.7,11],[25.0,2],[25.2,0],[25.4,5],[25.6,9],[25.8,2],[26.0,-6],[26.2,-2],
[26.4,1],[26.6,-5],[26.8,-16],[27.0,-1],[27.2,8],[27.4,18],[27.6,0],[27.8,10],[28.0,12]];
var meanC = [[0.1,-1],[0.6,-2],[1.0,-2.5],[1.5,-1.5],[2.0,-2],[2.5,-1],[3.0,-0.5],[3.5,-1.5],[4.0,0],[4.4,1],[4.8,0],[5.2,-1],
[5.6,1],[6.0,0],[6.4,2],[6.8,-1],[7.2,1],[7.6,0],[8.0,-1.5],[8.4,1],[8.8,-1],[9.2,0.5],[9.6,-2],[10.0,-0.5],[10.4,1],[10.8,0],
[11.2,2],[11.6,0],[12.0,1.5],[12.4,-1],[12.7,2],[12.9,11],[13.1,3],[13.4,1],[13.7,2],[14.0,16],[14.3,5],[14.6,9],[14.8,14.5],
[15.0,8],[15.2,6.5],[15.6,10],[15.9,13.5],[16.2,9],[16.5,7],[16.8,19],[17.0,12],[17.3,10],[17.7,14.5],[18.1,6.5],[18.4,10],
[18.7,8.5],[19.0,3],[19.3,2],[19.6,7],[19.9,5],[20.3,-1],[20.6,4],[20.8,10],[21.0,2],[21.2,-4],[21.5,-3],[21.8,-7],[22.1,-10],
[22.4,-3],[22.6,0],[22.9,1],[23.1,-2],[23.4,-5],[23.6,-1],[23.9,4],[24.2,2],[24.5,8.5],[24.7,3],[25.0,0],[25.2,6],[25.4,10],
[25.6,4],[25.8,0],[26.1,3],[26.4,1],[26.6,-2],[26.8,-17],[27.0,3],[27.2,15],[27.4,2],[27.6,0],[27.8,8],[28.0,15]];
// altitudes of the red marks at the left edge of panel a (value -95 %)
var redMarksA = [16.0,14.56,14.33,14.05,13.8,11.6,9.4];
var tropopauseKm = 13.4, shadeFromKm = 16.5;

// ---------- data : bottom row (P mb, difference %) ----------
var rhLabels = ["1\u22122 %RH","2\u22123 %RH","3\u22124 %RH","4\u22126 %RH","6\u221216 %RH","16\u221228 %RH","28\u221299 %RH"];
var seriesD = [
 [[[59,61],[69,23.7],[88,9.3],[125,3.3],[161,21.3]],
  [[26,66],[35,1.8],[47,-31],[69,-60],[85,-68.5],[108,-69.5],[128,-69],[162,-75.6]],
  [[614,36.5]],[[614,-68.4]]],
 [[[76,-3.8],[88,-18.1],[109,-28.5],[161,-12.4],[244,-8.2]],
  [[76,-67.1],[90,-68.5],[110,-72.2],[160,-47.3],[246,-71.8]]],
 [[[97,-21.4],[114,-26.6],[177,-33.2],[246,-20.9]],[[499,0.8],[614,7.8]],
  [[97,-72.8],[111,-70.9],[177,-71.4],[246,-72.6]],[[499,-77.1],[556,-76.6]]],
 [[[125,-37.4],[172,-38.3],[241,-34.1],[367,-14.1],[499,-3.7]],
  [[128,-69.8],[160,-68.5]],[[246,-74.2],[378,-72.3],[499,-75.1]]],
 [[[138,-33],[172,-38.4],[241,-30.2],[378,-16],[504,-6.5],[667,-1.8]],
  [[138,-65.7],[172,-69],[246,-74.2],[383,-74],[499,-75.1],[667,-72.3]]],
 [[[170,-32.4],[251,-31.8],[356,-19.5],[514,-8.5],[637,-6.6]],
  [[170,-67.6],[246,-74.2],[362,-74.9],[499,-75.4],[635,-76.1]]],
 [[[172,-39.1],[241,-31.8],[328,-23.6],[556,-10.6],[682,-7.7]],
  [[172,-77],[241,-76.1],[328,-76.6],[556,-76.4],[682,-77.7]]]
];
var seriesE = [
 [[[55,0.3],[72,1.2],[95,0.5],[126,-5.7],[163,4.8]],
  [[55,-70.2],[68,-68.3],[89,-72.3],[124,-67.1],[163,-76.1]],[[615,-72.3]]],
 [[[74,1],[105,-5.8],[242,1.4]],
  [[74,-67.6],[89,-70],[108,-71.8],[242,-76.1]]],
 [[[86,4.7],[113,-6.8],[163,-12.9],[252,1]],
  [[86,-66.2],[110,-70.9],[163,-75.1],[242,-74.2]],[[499,-0.5]],[[499,-78.2]]],
 [[[95,1.2],[121,-0.2],[173,-2.8],[231,3.1],[384,0],[499,-0.7]],
  [[95,-68.7],[126,-67.6],[179,-73.3],[231,-66.7],[384,-74.2],[499,-74.2]]],
 [[[124,-1.9],[171,-3.3],[231,-2.5],[379,-0.6],[505,0.5],[667,0]],
  [[126,-68.1],[168,-72.3],[231,-73.3],[379,-73.9],[505,-75.4],[667,-73.3]]],
 [[[179,2.5],[242,1],[379,0],[510,0.2],[636,-2.1]],
  [[184,-73.7],[252,-70.4],[379,-75.1],[510,-77.5],[636,-73.7]]],
 [[[176,-0.2],[244,-0.6],[326,-0.8],[552,0],[678,-0.6]],
  [[176,-71.8],[244,-74.9],[326,-75.6],[552,-75.3],[678,-77.3]]]
];
var seriesF = [
 [[[57,1.2],[67,6.4],[85,3.1],[126,-4.9],[159,7.6]],
  [[54,-70.6],[67,-69.5],[91,-73.7],[124,-69.8],[159,-75.8]],[[615,-73.3]]],
 [[[75,5.5],[85,8.8],[112,-11.3]],
  [[75,-66.9],[85,-63.8],[110,-72.8]]],
 [[[85,17],[107,4.5],[159,9.7],[249,1.7]],[[618,0.8]],
  [[89,-62.6],[107,-71.8],[159,-41.7],[249,-77]],[[497,-78.3],[618,-76.4]]],
 [[[93,20.8],[117,10.5],[180,1.2],[365,1.7],[502,-0.5]],
  [[93,-54.7],[117,-67.6],[180,-69],[233,-74.2],[365,-73.7],[502,-74.4]]],
 [[[126,20.6],[170,-0.2],[249,-1.1],[381,-0.7],[507,0.8],[676,-1.6]],
  [[126,-59.4],[165,-63.4],[238,-72.3],[381,-74.5],[507,-75.6],[676,-75.4]]],
 [[[140,47.4],[175,11.1],[251,0.8],[386,-0.2],[507,0.3],[639,-2.3]],
  [[140,-55.6],[170,-61.5],[249,-71.8],[386,-75.6],[513,-76.4],[639,-73.7]]],
 [[[173,11.6],[247,-1.9],[328,-0.9],[555,0],[679,-0.4]],
  [[175,-55.8],[244,-76.4],[328,-76.7],[555,-75.6],[681,-77.3]]]
];
var refLines = {zero:0, band:[3,-3], low:-70};

// ---------- layout / style ----------
var svg = d3.select("#fig");
var panelW = 317;
var rhColors = ["#1f4fff","#00dd00","#ff2a0a","#ffe600","#7a35c8","#00e5ff","#000000"];
var dotBlue = "#1a4cff", meanRed = "#ff3010";
var tickFont = 20;
var fmt = function(d){ return d<0 ? "\u2212"+Math.abs(d) : String(d); };

function flat(rows){
  var out=[];
  rows.forEach(function(r){ r.slice(1).forEach(function(v){ out.push([r[0],v]); }); });
  return out;
}

function drawAxes(g, x, y, o){
  var y0=y.range()[0], y1=y.range()[1], x0=x.range()[0], x1=x.range()[1];
  function clean(sel){ sel.select(".domain").remove(); sel.attr("font-size",null).attr("font-family",null);
    sel.selectAll("line").attr("stroke","#000").attr("stroke-width",1);
    sel.selectAll("text").style("font-size",tickFont+"px").style("letter-spacing","1.5px"); }
  // bottom
  g.append("g").attr("transform","translate(0,"+y0+")")
    .call(d3.axisBottom(x).tickValues(o.xMajor).tickSize(-7).tickPadding(o.xPad).tickFormat(fmt)).call(clean);
  g.append("g").attr("transform","translate(0,"+y0+")")
    .call(d3.axisBottom(x).tickValues(o.xMinor).tickSize(-4).tickFormat("")).call(clean);
  // top
  g.append("g").attr("transform","translate(0,"+y1+")")
    .call(d3.axisTop(x).tickValues(o.xMajor).tickSize(-7).tickFormat("")).call(clean);
  g.append("g").attr("transform","translate(0,"+y1+")")
    .call(d3.axisTop(x).tickValues(o.xMinor).tickSize(-4).tickFormat("")).call(clean);
  // left
  var gl = g.append("g").attr("transform","translate("+x0+",0)")
    .call(d3.axisLeft(y).tickValues(o.yMajor).tickSize(-7).tickPadding(o.yPad).tickFormat(fmt)).call(clean);
  gl.selectAll(".tick").filter(function(d){return d===o.yMajor[0];}).select("text").attr("dy","0.02em");
  g.append("g").attr("transform","translate("+x0+",0)")
    .call(d3.axisLeft(y).tickValues(o.yMinor).tickSize(-4).tickFormat("")).call(clean);
  // right
  g.append("g").attr("transform","translate("+x1+",0)")
    .call(d3.axisRight(y).tickValues(o.yMajor).tickSize(-7).tickFormat("")).call(clean);
  g.append("g").attr("transform","translate("+x1+",0)")
    .call(d3.axisRight(y).tickValues(o.yMinor).tickSize(-4).tickFormat("")).call(clean);
  // frame
  g.append("rect").attr("x",x0).attr("y",y1).attr("width",x1-x0).attr("height",y0-y1)
    .attr("fill","none").attr("stroke","#000").attr("stroke-width",1.6);
}

function panelLabel(g, x, y, txt){
  g.append("text").attr("x",x).attr("y",y).text(txt)
   .style("font-size","19px").style("font-weight","bold").style("letter-spacing","2.4px").style("word-spacing","3px");
}
function axisTitle(sel){
  sel.style("font-size","20px").style("font-weight","bold").style("letter-spacing","2.4px");
}

// ---------- top row ----------
var topPanels = [
  {left:102, label:"a: ORIGINAL DATA", rows:scatterA, mean:meanA, yPad:15},
  {left:481, label:"b: TL+EMPIR CORRS", rows:scatterB, mean:meanB, yPad:11},
  {left:859, label:"c: EMPIR CORR ONLY", rows:scatterC, mean:meanC, yPad:9}
];
topPanels.forEach(function(p,i){
  var x = d3.scaleLinear().domain([-100,100]).range([p.left,p.left+panelW]);
  var y = d3.scaleLinear().domain([0,28]).range([473,14]);
  var g = svg.append("g");
  var cid="clipT"+i;
  g.append("clipPath").attr("id",cid).append("rect")
    .attr("x",p.left).attr("y",14).attr("width",panelW).attr("height",459);
  var inner = g.append("g").attr("clip-path","url(#"+cid+")");
  inner.append("rect").attr("x",x(-100)+1).attr("y",y(28)).attr("width",x(100)-x(-100)-6)
    .attr("height",y(shadeFromKm)-y(28)).attr("fill","#e4e4e4");
  inner.selectAll("rect.dot").data(flat(p.rows)).enter().append("rect").attr("class","dot")
    .attr("x",function(d){return x(d[1])-1.1;}).attr("y",function(d){return y(d[0])-1.1;})
    .attr("width",2.3).attr("height",2.3).attr("fill",dotBlue);
  inner.append("line").attr("x1",x(0)).attr("x2",x(0)).attr("y1",y(0)).attr("y2",y(28))
    .attr("stroke","#000").attr("stroke-width",1.5);
  inner.append("line").attr("x1",x(-100)).attr("x2",x(100)).attr("y1",y(tropopauseKm)).attr("y2",y(tropopauseKm))
    .attr("stroke","#000").attr("stroke-width",1.5);
  inner.append("path").datum(p.mean)
    .attr("d",d3.line().x(function(d){return x(d[1]);}).y(function(d){return y(d[0]);}))
    .attr("fill","none").attr("stroke",meanRed).attr("stroke-width",2.6).attr("stroke-linejoin","round");
  if(i===0){
    inner.selectAll("rect.rm").data(redMarksA).enter().append("rect").attr("class","rm")
      .attr("x",x(-95)-1.2).attr("y",function(d){return y(d)-1.2;}).attr("width",2.4).attr("height",2.4)
      .attr("fill",meanRed);
  }
  drawAxes(g,x,y,{xMajor:[-100,-50,0,50,100], xMinor:d3.range(-100,101,10), xPad:20,
                   yMajor:[0,5,10,15,20,25], yMinor:d3.range(0,29,1), yPad:p.yPad});
  panelLabel(g, p.left+16, 52, p.label);
  g.append("text").attr("x",p.left+panelW/2).attr("y",535).attr("text-anchor","middle")
    .text("Difference from CFH (%)").call(axisTitle);
});
svg.append("text").attr("transform","translate(50,246) rotate(-90)").attr("text-anchor","middle")
  .text("Altitude (km)").call(axisTitle).style("font-size","21px");
svg.append("text").attr("x",273).attr("y",454).text("CFH Force Freezing at 2\u22124 km")
  .style("font-size","19.5px").style("letter-spacing","2.2px");

// ---------- bottom row ----------
var botPanels = [
  {left:102, label:"d: ORIGINAL DATA", series:seriesD, yPad:17},
  {left:480, label:"e: TL+EMPIR CORRS", series:seriesE, yPad:10},
  {left:858, label:"f: EMPIR CORR ONLY", series:seriesF, yPad:11}
];
botPanels.forEach(function(p,i){
  var x = d3.scaleLinear().domain([0,1000]).range([p.left,p.left+panelW]);
  var y = d3.scaleLinear().domain([-80,50]).range([1025.7,566]);
  var g = svg.append("g");
  var cid="clipB"+i;
  g.append("clipPath").attr("id",cid).append("rect")
    .attr("x",p.left).attr("y",566).attr("width",panelW).attr("height",459.7);
  var inner = g.append("g").attr("clip-path","url(#"+cid+")");
  inner.append("line").attr("x1",x(0)).attr("x2",x(1000)).attr("y1",y(refLines.zero)).attr("y2",y(refLines.zero))
    .attr("stroke","#000").attr("stroke-width",1.3).attr("stroke-dasharray","16,9");
  refLines.band.concat([refLines.low]).forEach(function(v){
    inner.append("line").attr("x1",x(0)).attr("x2",x(1000)).attr("y1",y(v)).attr("y2",y(v))
      .attr("stroke","#000").attr("stroke-width",1.2).attr("stroke-dasharray","1.5,3");
  });
  var line = d3.line().x(function(d){return x(d[0]);}).y(function(d){return y(d[1]);});
  p.series.forEach(function(segs,k){
    segs.forEach(function(seg){
      if(seg.length>1) inner.append("path").datum(seg).attr("d",line).attr("fill","none")
        .attr("stroke",rhColors[k]).attr("stroke-width",2.6).attr("stroke-linejoin","round");
      inner.selectAll(null).data(seg).enter().append("circle")
        .attr("cx",function(d){return x(d[0]);}).attr("cy",function(d){return y(d[1]);})
        .attr("r",3.6).attr("fill",rhColors[k]);
    });
  });
  drawAxes(g,x,y,{xMajor:[0,200,400,600,800,1000], xMinor:d3.range(0,1001,50), xPad:19,
                   yMajor:[-80,-60,-40,-20,0,20,40], yMinor:d3.range(-80,51,5), yPad:p.yPad});
  panelLabel(g, p.left+16, 603, p.label);
  g.append("text").attr("x",p.left+panelW-19).attr("y",728).attr("text-anchor","end").text("\u00b13%")
    .style("font-size","21px").style("letter-spacing","1px");
  g.append("text").attr("x",p.left+panelW/2).attr("y",1083).attr("text-anchor","middle")
    .text("P (mb)").call(axisTitle);
  if(i===0){
    var legendX=[243,401], legendY=[632,657,682,707];
    rhLabels.forEach(function(lab,k){
      var col = k<4?0:1, row = k<4?k:k-4;
      g.append("text").attr("x",legendX[col]).attr("y",legendY[row]).attr("text-anchor","end")
        .text(lab).style("font-size","20px").style("letter-spacing","1.2px").style("fill",rhColors[k]);
    });
  }
});
svg.append("text").attr("transform","translate(32,798) rotate(-90)").attr("text-anchor","middle")
  .text("Difference from CFH (%)").call(axisTitle);
</script>
</body>
</html>
